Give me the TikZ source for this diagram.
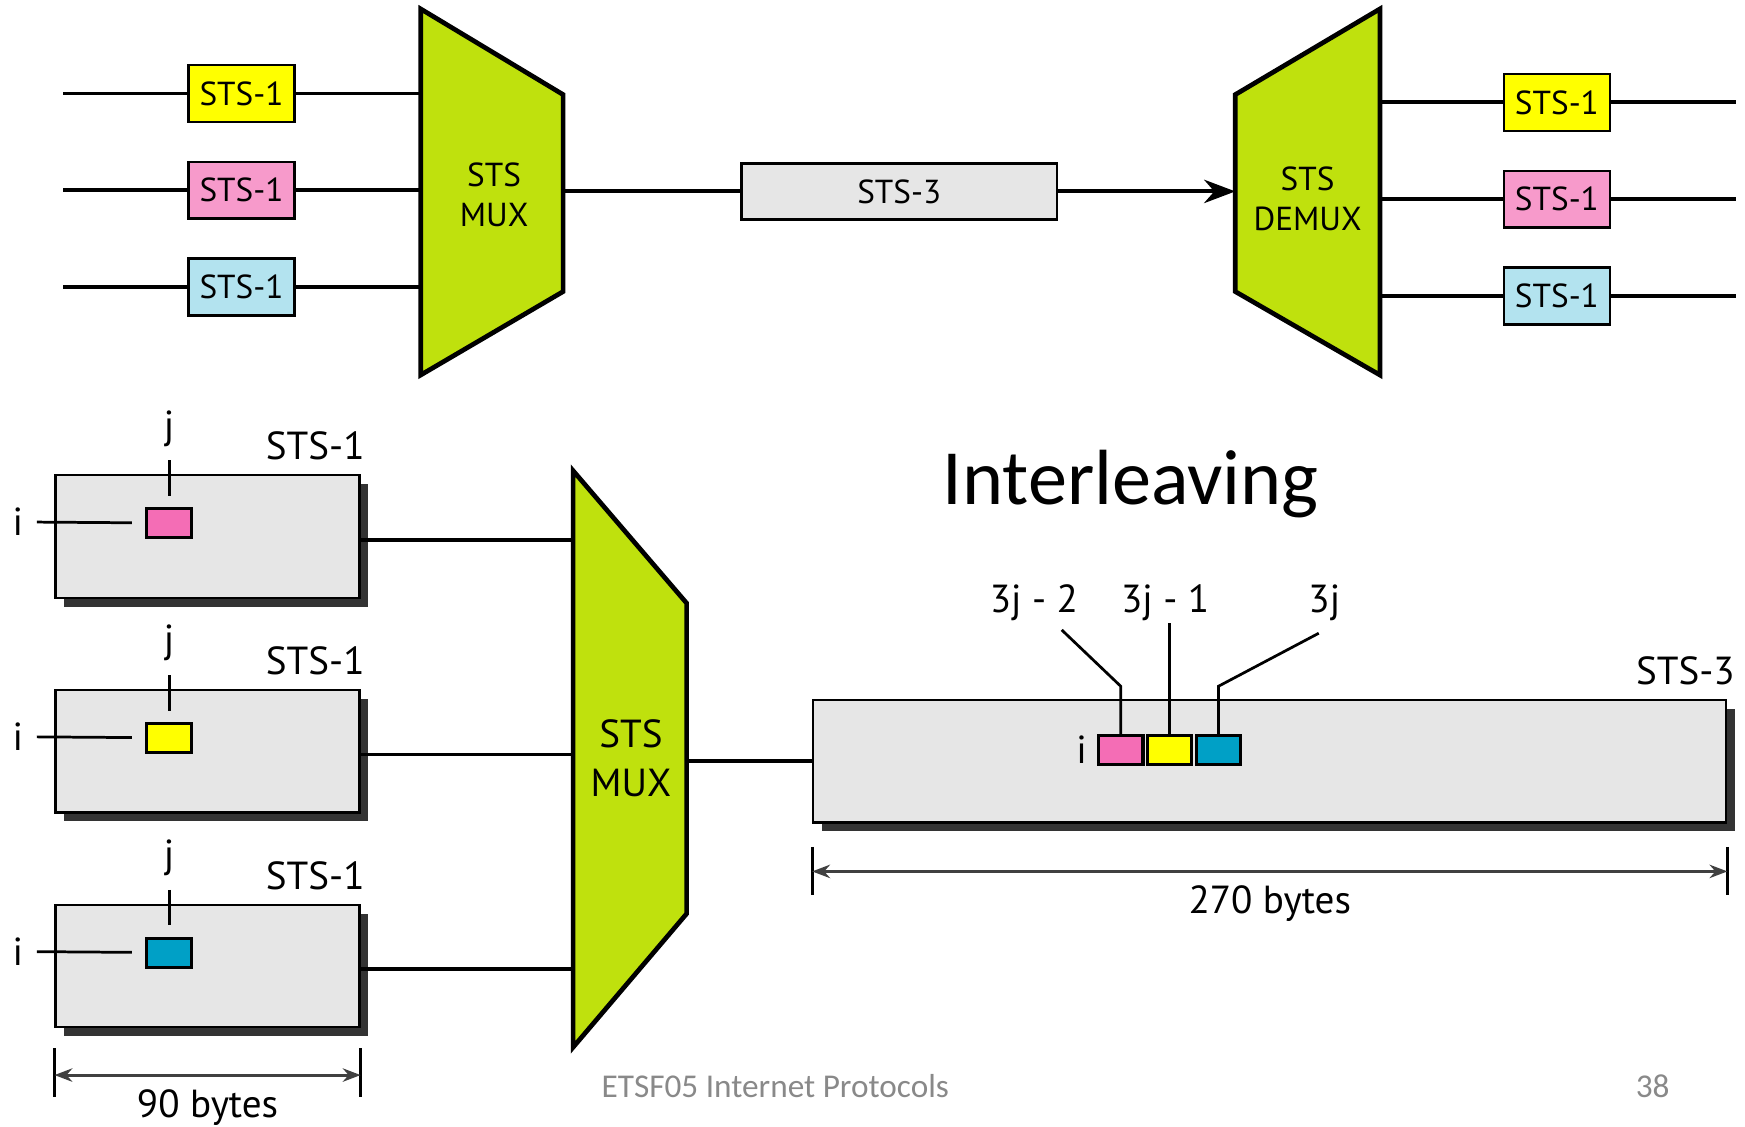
\documentclass[tikz,border=0pt]{standalone}
\usepackage{fontspec}
\setmainfont{PT Sans}
\newfontfamily\slidefont{Carlito}
\usepackage{tikz}
\usetikzlibrary{arrows.meta,positioning,shadows}
\definecolor{muxgreen}{HTML}{BFE10D}
\definecolor{stsyellow}{HTML}{FFFF00}
\definecolor{stspink}{HTML}{F79ACB}
\definecolor{stsblue}{HTML}{B3E3EF}
\definecolor{bytepink}{HTML}{F46DB5}
\definecolor{byteblue}{HTML}{00A0C6}
\definecolor{framegray}{HTML}{E6E6E6}
\definecolor{shadowgray}{HTML}{333333}
\definecolor{footgray}{HTML}{898989}
\tikzset{
  % Base styles
  sonet base/.style={x=0.01cm, y=-0.01cm},
  link/.style={line width=1pt},
  % Top row: signals and multiplexers
  sts box/.style={rectangle, draw, line width=0.65pt, minimum width=9.5mm, minimum height=5.1mm, inner sep=0pt, font=\fontsize{8.5}{10}\selectfont},
  trunk box/.style={sts box, fill=framegray, minimum width=28.3mm, minimum height=5mm},
  mux shape/.style={draw, line width=1.2pt, fill=muxgreen, line join=miter},
  mux text/.style={align=center, font=\fontsize{8.5}{10.2}\selectfont},
  big mux text/.style={align=center, font=\fontsize{10}{12.5}\selectfont},
  % Frames and bytes
  frame box/.style={rectangle, draw, line width=0.55pt, fill=framegray, inner sep=0pt, minimum height=11mm,
    drop shadow={shadow xshift=0.8mm, shadow yshift=-0.8mm, fill=shadowgray, opacity=1}},
  byte box/.style={rectangle, draw, line width=0.8pt, minimum width=4mm, minimum height=2.6mm, inner sep=0pt},
  byte label/.style={font=\fontsize{10}{12}\selectfont},
  leader/.style={line width=0.7pt},
  % Dimension lines
  dim tick/.style={line width=0.8pt},
  dim line/.style={line width=0.8pt, draw=black!75, {Stealth[length=1.6mm,width=1.2mm]}-{Stealth[length=1.6mm,width=1.2mm]}},
  % Slide texts
  title text/.style={font=\slidefont\fontsize{20}{24}\selectfont},
  foot text/.style={font=\slidefont\fontsize{8.5}{10}\selectfont, text=footgray, inner sep=0pt},
}

\begin{document}
\begin{tikzpicture}[sonet base]
\useasboundingbox (0,0) rectangle (1568,1012);

% Multiplexer and demultiplexer
\draw[mux shape] (378,8) -- (506,85) -- (506,262) -- (378,337) -- cycle;
\node[mux text] (muxA) at (444,175) {STS\\MUX};
\coordinate (muxAw) at (378,172);
\coordinate (muxAe) at (506,172);

\draw[mux shape] (1110,85) -- (1240,8) -- (1240,337) -- (1110,262) -- cycle;
\node[mux text] (demux) at (1175,179) {STS\\DEMUX};
\coordinate (demuxw) at (1110,172);
\coordinate (demuxe) at (1240,179);

% Incoming STS-1 signals
\node[sts box, fill=stsyellow] (in1) at (217,84) {STS-1};
\node[sts box, fill=stspink] (in2) at (217,171) {STS-1};
\node[sts box, fill=stsblue] (in3) at (217,258) {STS-1};
\coordinate (src1) at (57,84);
\coordinate (src2) at (57,171);
\coordinate (src3) at (57,258);
\draw[link] (src1) -- (in1);
\draw[link] (src2) -- (in2);
\draw[link] (src3) -- (in3);
\draw[link] (in1) -- (in1 -| muxAw);
\draw[link] (in2) -- (in2 -| muxAw);
\draw[link] (in3) -- (in3 -| muxAw);

% STS-3 trunk
\node[trunk box] (trunk) at (808,172) {STS-3};
\draw[link] (muxAe) -- (trunk);
\draw[link, -{Stealth[length=2.8mm, width=2.1mm]}] (trunk) -- (demuxw);

% Outgoing STS-1 signals
\node[sts box, fill=stsyellow] (out1) at (1399,92) {STS-1};
\node[sts box, fill=stspink] (out2) at (1399,179) {STS-1};
\node[sts box, fill=stsblue] (out3) at (1399,266) {STS-1};
\coordinate (sink1) at (1560,92);
\coordinate (sink2) at (1560,179);
\coordinate (sink3) at (1560,266);
\draw[link] (out1 -| demuxe) -- (out1);
\draw[link] (out2 -| demuxe) -- (out2);
\draw[link] (out3 -| demuxe) -- (out3);
\draw[link] (out1) -- (sink1);
\draw[link] (out2) -- (sink2);
\draw[link] (out3) -- (sink3);

% STS-1 frames
\node[frame box, minimum width=27.3mm] (f1) at (186.5,482) {};
\node[frame box, minimum width=27.3mm] (f2) at (186.5,675) {};
\node[frame box, minimum width=27.3mm] (f3) at (186.5,868) {};
\node[byte label, anchor=south east] (t1) at ([xshift=1.6mm]f1.north east) {STS-1};
\node[byte label, anchor=south east] (t2) at ([xshift=1.6mm]f2.north east) {STS-1};
\node[byte label, anchor=south east] (t3) at ([xshift=1.6mm]f3.north east) {STS-1};

\node[byte box, fill=bytepink] (b1) at (152,470) {};
\node[byte box, fill=stsyellow] (b2) at (152,663) {};
\node[byte box, fill=byteblue] (b3) at (152,856) {};

\node[byte label] (j1) at (152,385) {j};
\node[byte label] (j2) at (152,578) {j};
\node[byte label] (j3) at (152,771) {j};
\draw[leader, shorten >=1mm] (j1) -- (b1);
\draw[leader, shorten >=1mm] (j2) -- (b2);
\draw[leader, shorten >=1mm] (j3) -- (b3);

\node[byte label] (i1) at (16,469) {i};
\node[byte label] (i2) at (16,662) {i};
\node[byte label] (i3) at (16,855) {i};
\draw[leader, shorten >=1.2mm] (i1) -- (b1);
\draw[leader, shorten >=1.2mm] (i2) -- (b2);
\draw[leader, shorten >=1.2mm] (i3) -- (b3);

% Second multiplexer
\draw[mux shape] (515,423) -- (617,542) -- (617,821) -- (515,941) -- cycle;
\node[big mux text] (muxB) at (567,681) {STS\\MUX};
\coordinate (muxBw) at (515,681);
\coordinate (muxBe) at (617,684);
\draw[link] ([yshift=-0.3mm]f1.east) -- ([yshift=-0.3mm]f1.east -| muxBw);
\draw[link] ([yshift=-0.3mm]f2.east) -- ([yshift=-0.3mm]f2.east -| muxBw);
\draw[link] ([yshift=-0.3mm]f3.east) -- ([yshift=-0.3mm]f3.east -| muxBw);

% STS-3 frame
\node[frame box, minimum width=82mm] (s3) at (1141,684) {};
\node[byte label, anchor=south east] (t4) at ([xshift=1.9mm]s3.north east) {STS-3};
\draw[link] (muxBe) -- (s3);

\node[byte box, fill=bytepink] (c1) at (1007,674) {};
\node[byte box, fill=stsyellow] (c2) at (1051,674) {};
\node[byte box, fill=byteblue] (c3) at (1095,674) {};
\node[byte label] (ic) at (972,674) {i};

\node[byte label] (l1) at (929,542) {3j - 2};
\node[byte label] (l2) at (1047,542) {3j - 1};
\node[byte label] (l3) at (1190,542) {3j};
\coordinate (k1) at (954,566);
\coordinate (k2) at (1053,560);
\coordinate (k3) at (1185,569);
\draw[leader] (c1.north) -- ++(0,-43) -- (k1);
\draw[leader] (c2.north) -- (c2.north |- k2);
\draw[leader] (c3.north) -- ++(0,-43) -- (k3);

% Dimensions
\draw[dim tick] ([yshift=-2.1mm]s3.south west) -- ++(0,43);
\draw[dim tick] ([yshift=-2.1mm]s3.south east) -- ++(0,43);
\draw[dim line] ([yshift=-4.3mm]s3.south west) -- ([yshift=-4.3mm]s3.south east)
  node[midway, below, byte label, text=black] (w3) {270 bytes};

\draw[dim tick] ([yshift=-1.8mm]f3.south west) -- ++(0,44);
\draw[dim tick] ([yshift=-1.8mm]f3.south east) -- ++(0,44);
\draw[dim line] ([yshift=-4.2mm]f3.south west) -- ([yshift=-4.2mm]f3.south east)
  node[midway, below, byte label, text=black] (w1) {90 bytes};

% Slide texts
\node[title text, anchor=base] (title) at (1016,453) {Interleaving};
\node[foot text, anchor=base west] (foot) at (540,986) {ETSF05 Internet Protocols};
\node[foot text, anchor=base] (page) at (1485,986) {38};
\end{tikzpicture}
\end{document}
